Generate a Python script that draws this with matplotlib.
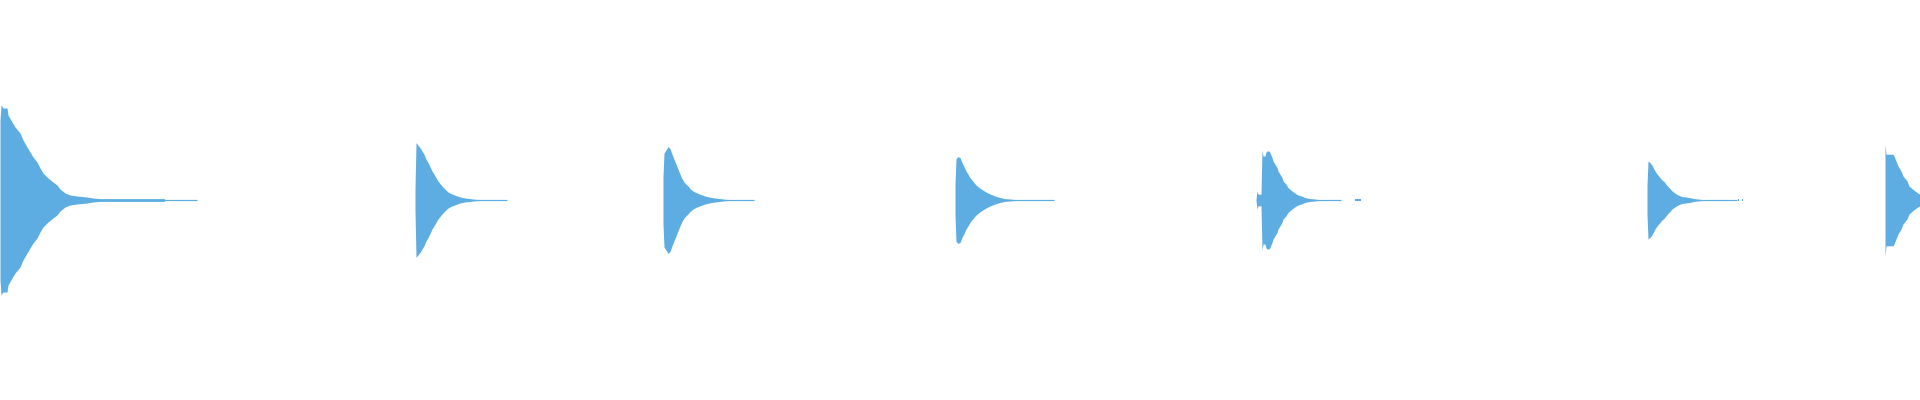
import numpy as np
import matplotlib
matplotlib.use('Agg')
import matplotlib.pyplot as plt

# waveform envelope: onset (columns), offsets from onset, peak amplitude (full scale = 1)
onsets = [0, 415, 663, 955, 1256, 1355, 1647, 1738, 1742, 1885]

offsets = [
    [0, 1, 3, 7, 8, 12, 15, 20, 23, 27, 30, 33, 37, 40, 43, 48, 53, 57, 60, 65, 70, 77, 87, 93, 100, 164, 165, 197],
    [0, 1, 3, 5, 7, 9, 11, 13, 15, 17, 19, 21, 23, 25, 27, 30, 33, 36, 40, 45, 50, 55, 60, 65, 92],
    [0, 1, 3, 5, 7, 9, 11, 13, 15, 17, 19, 21, 23, 25, 27, 30, 33, 37, 42, 47, 52, 57, 62, 67, 91],
    [0, 1, 3, 5, 7, 9, 11, 13, 15, 17, 19, 21, 23, 25, 28, 31, 35, 40, 45, 50, 55, 60, 99],
    [0, 1, 2, 5, 6, 7, 9, 10, 11, 13, 14, 15, 16, 17, 19, 21, 22, 24, 26, 27, 30, 32, 36, 39, 42, 46, 49, 54, 59, 62, 85],
    [0, 6],
    [0, 1, 3, 5, 7, 9, 11, 13, 15, 17, 19, 21, 23, 25, 28, 31, 35, 39, 43, 47, 51, 55, 90],
    [0, 1],
    [0, 1],
    [0, 1, 8, 9, 11, 13, 16, 18, 22, 24, 27, 30, 33, 35],
]

peaks = [
    [0.400, 0.475, 0.460, 0.460, 0.425, 0.390, 0.365, 0.335, 0.300, 0.265, 0.240, 0.215, 0.190, 0.160,
     0.135, 0.110, 0.090, 0.075, 0.055, 0.035, 0.025, 0.020, 0.015, 0.010, 0.007, 0.007, 0.003, 0.003],
    [0.055, 0.287, 0.274, 0.262, 0.245, 0.229, 0.204, 0.187, 0.167, 0.145, 0.129, 0.112, 0.095, 0.082,
     0.070, 0.054, 0.040, 0.032, 0.024, 0.015, 0.010, 0.007, 0.004, 0.003, 0.003],
    [0.120, 0.235, 0.250, 0.267, 0.257, 0.229, 0.204, 0.179, 0.154, 0.129, 0.107, 0.090, 0.079, 0.070,
     0.057, 0.045, 0.037, 0.029, 0.020, 0.014, 0.010, 0.007, 0.004, 0.003, 0.003],
    [0.079, 0.207, 0.217, 0.212, 0.187, 0.167, 0.145, 0.129, 0.112, 0.099, 0.087, 0.075, 0.067, 0.059,
     0.049, 0.040, 0.030, 0.020, 0.012, 0.007, 0.005, 0.003, 0.003],
    [0.003, 0.045, 0.029, 0.029, 0.250, 0.220, 0.220, 0.240, 0.245, 0.245, 0.237, 0.224, 0.212, 0.195,
     0.179, 0.162, 0.145, 0.129, 0.112, 0.095, 0.079, 0.062, 0.045, 0.034, 0.025, 0.019, 0.012, 0.007,
     0.005, 0.003, 0.003],
    [0.003, 0.003],
    [0.074, 0.195, 0.187, 0.174, 0.154, 0.137, 0.124, 0.112, 0.100, 0.092, 0.079, 0.067, 0.057, 0.045,
     0.034, 0.025, 0.017, 0.015, 0.012, 0.007, 0.005, 0.003, 0.003],
    [0.003, 0.003],
    [0.003, 0.003],
    [0.280, 0.229, 0.229, 0.220, 0.195, 0.170, 0.145, 0.120, 0.095, 0.070, 0.057, 0.045, 0.034, 0.029],
]

wave_color = '#5DADE2'

fig = plt.figure(figsize=(19.2, 4), dpi=100)
ax = fig.add_axes([0, 0, 1, 1])

for start, offs, amp in zip(onsets, offsets, peaks):
    t = start + np.array(offs)
    a = np.array(amp)
    ax.fill_between(t, -a, a, color=wave_color, linewidth=0)

ax.set_xlim(0, 1920)
ax.set_ylim(-1, 1)
ax.axis('off')

fig.savefig('out.png', dpi=100, facecolor='white')
